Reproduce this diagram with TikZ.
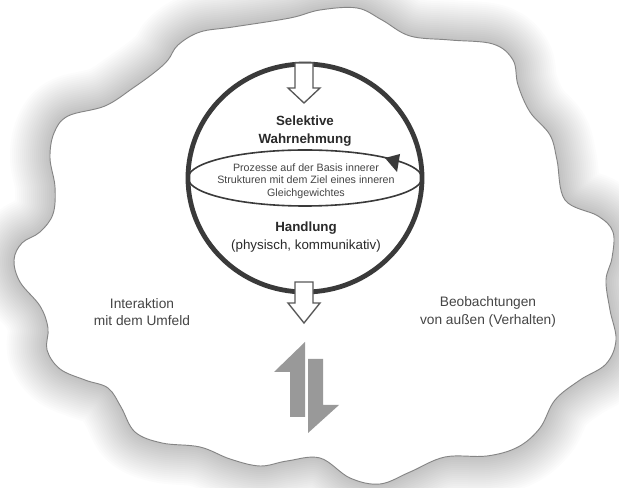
\documentclass[tikz,border=0pt]{standalone}
\usepackage{fontspec}
\setmainfont{Liberation Sans}
\usetikzlibrary{shapes.geometric}
\definecolor{ink}{HTML}{2A2A2A}
\definecolor{rim}{HTML}{3A3A3A}
\definecolor{softtext}{HTML}{454545}
\definecolor{cloudline}{HTML}{858585}
\definecolor{harpoon}{HTML}{999999}
\tikzset{
  globe/.style={draw=rim, line width=3.6pt, ellipse, inner sep=0pt},
  equator/.style={draw=rim, line width=1.2pt, ellipse, inner sep=0pt},
  hollowarrow/.style={draw=rim!85, fill=white, line width=1pt, line join=miter},
  heading/.style={text=ink, font=\bfseries\fontsize{10}{13.5}\selectfont, align=center},
  smalltext/.style={text=softtext, font=\fontsize{8}{9.4}\selectfont, align=center},
  sidelabel/.style={text=softtext, font=\fontsize{10.3}{13}\selectfont, align=center},
  grayarrow/.style={fill=harpoon, draw=none}
}
\begin{document}
\begin{tikzpicture}[x=0.75pt, y=-0.75pt]
\useasboundingbox (0,0) rectangle (619,488);
\fill[white] (0,0) rectangle (619,488);

% soft glow around the cloud
\foreach \w in {4,8,...,80}
  \draw[black, opacity=0.011, line width=\w*0.75pt, line join=round]
    plot[smooth cycle, tension=0.6] coordinates {
    (320,10) (357,8) (382,20) (410,36) (450,40) (493,44) (513,60) (518,85)
    (530,112) (550,135) (557,160) (565,200) (598,216) (613,232) (612,258)
    (606,280) (610,310) (616,340) (606,364) (580,380) (555,400) (540,428)
    (518,447) (487,456) (445,457) (410,472) (380,484) (350,478) (320,458)
    (287,461) (260,466) (230,459) (200,447) (162,443) (135,432) (121,407)
    (108,388) (85,380) (60,369) (47,350) (48,328) (40,306) (20,282) (14,260)
    (22,243) (40,232) (53,214) (55,187) (50,158) (54,133) (68,116) (105,106)
    (133,88) (155,72) (168,60) (178,45) (200,32) (233,27) (290,18)};

% the cloud itself
\filldraw[fill=white, draw=cloudline, line width=0.7pt]
    plot[smooth cycle, tension=0.6] coordinates {
    (320,10) (357,8) (382,20) (410,36) (450,40) (493,44) (513,60) (518,85)
    (530,112) (550,135) (557,160) (565,200) (598,216) (613,232) (612,258)
    (606,280) (610,310) (616,340) (606,364) (580,380) (555,400) (540,428)
    (518,447) (487,456) (445,457) (410,472) (380,484) (350,478) (320,458)
    (287,461) (260,466) (230,459) (200,447) (162,443) (135,432) (121,407)
    (108,388) (85,380) (60,369) (47,350) (48,328) (40,306) (20,282) (14,260)
    (22,243) (40,232) (53,214) (55,187) (50,158) (54,133) (68,116) (105,106)
    (133,88) (155,72) (168,60) (178,45) (200,32) (233,27) (290,18)};

% sphere and its equator
\node[globe, minimum width=175.5pt, minimum height=171pt] (globe) at (305,178) {};
\node[equator, minimum width=175.5pt, minimum height=42pt] (equator) at (305,178) {};

% arrowhead on the equator
\fill[rim] (385,158) -- (400,154) -- (397,172) -- cycle;

% hollow arrow entering at the top
\draw[hollowarrow] (295,63) -- (313,63) -- (313,88) -- (320,88) -- (304,103)
  -- (288,88) -- (295,88) -- cycle;
% hollow arrow leaving at the bottom
\draw[hollowarrow] (295,282) -- (313,282) -- (313,303) -- (320,303) -- (304,323)
  -- (288,303) -- (295,303) -- cycle;

% texts
\node[heading] (sel) at (305,131) {Selektive\\Wahrnehmung};
\node[smalltext] (proc) at (306,181) {Prozesse auf der Basis innerer\\Strukturen mit dem Ziel eines inneren\\Gleichgewichtes};
\node[text=ink, font=\fontsize{10}{14}\selectfont, align=center] (hand) at (306,237)
  {\textbf{Handlung}\\(physisch, kommunikativ)};
\node[sidelabel] (inter) at (142,312) {Interaktion\\mit dem Umfeld};
\node[sidelabel] (beob) at (488,312) {Beobachtungen\\von außen (Verhalten)};

% exchange arrows
\fill[grayarrow] (305,342) -- (274,372) -- (290,372) -- (290,417) -- (305,417) -- cycle;
\fill[grayarrow] (308,359) -- (323,359) -- (323,405) -- (339,405) -- (308,433) -- cycle;
\end{tikzpicture}
\end{document}
